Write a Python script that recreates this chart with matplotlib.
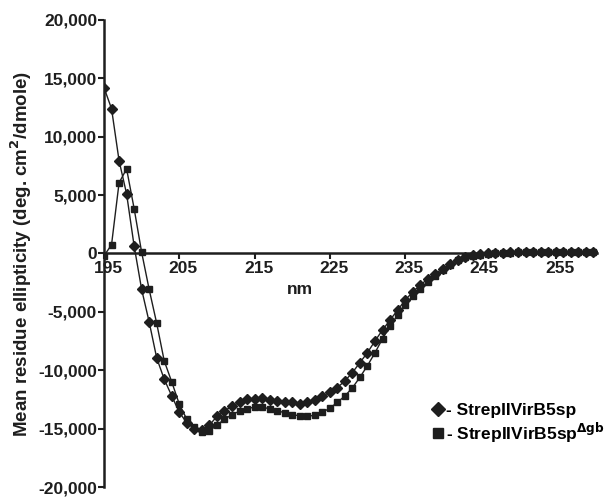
import matplotlib.pyplot as plt
from matplotlib.lines import Line2D
from matplotlib.ticker import FuncFormatter
from matplotlib.transforms import ScaledTranslation

# wavelength (nm) and mean residue ellipticity
nm_full = list(range(195, 261))

# StrepIIVirB5sp (diamonds)
elip_full = [14200, 12400, 7950, 5100, 650, -3080, -5870, -8950, -10770, -12200,
             -13600, -14500, -15000, -15100, -14700, -13950, -13500, -13050, -12760, -12500,
             -12420, -12400, -12550, -12620, -12680, -12760, -12850, -12760, -12560, -12200,
             -11900, -11480, -10910, -10200, -9340, -8490, -7490, -6550, -5700, -4850,
             -4000, -3300, -2700, -2200, -1750, -1300, -900, -520, -300, -160,
             -80, 0, 40, 70, 90, 100, 110, 120, 130, 130,
             140, 140, 150, 150, 150, 150]

# StrepIIVirB5sp delta-gb (squares)
elip_dgb = [-200, 750, 6050, 7250, 3850, 100, -3080, -5980, -9200, -11000,
            -12900, -14200, -14900, -15300, -15200, -14700, -14200, -13800, -13500, -13300,
            -13150, -13150, -13300, -13450, -13650, -13800, -13900, -13950, -13850, -13600,
            -13250, -12750, -12200, -11500, -10600, -9600, -8500, -7300, -6200, -5300,
            -4450, -3650, -3000, -2450, -1900, -1450, -950, -550, -320, -180,
            -90, -20, 30, 60, 80, 90, 100, 110, 120, 120,
            130, 130, 140, 140, 140, 140]

x_ticks = [195, 205, 215, 225, 235, 245, 255]
y_ticks = [-20000, -15000, -10000, -5000, 0, 5000, 10000, 15000, 20000]

plt.rcParams['font.family'] = ['Liberation Sans', 'DejaVu Sans']
plt.rcParams['font.weight'] = 'bold'

color = '#1e1e1e'
fs = 12.5

fig = plt.figure(figsize=(6.14, 4.98), dpi=100)
ax = fig.add_axes([0.1694, 0.022, 0.803, 0.938])

ax.plot(nm_full, elip_full, color=color, lw=1.0, marker='D', ms=4.8, mfc=color, mec=color)
ax.plot(nm_full, elip_dgb, color=color, lw=1.0, marker='s', ms=4.8, mfc=color, mec=color)

ax.set_xlim(195, 260.5)
ax.set_ylim(-20000, 20000)

ax.spines['top'].set_visible(False)
ax.spines['right'].set_visible(False)
ax.spines['bottom'].set_position(('data', 0))
ax.spines['left'].set_linewidth(1.8)
ax.spines['bottom'].set_linewidth(1.8)
ax.spines['left'].set_color(color)
ax.spines['bottom'].set_color(color)

ax.set_xticks(x_ticks)
ax.set_yticks(y_ticks)
ax.yaxis.set_major_formatter(FuncFormatter(lambda v, p: f'{int(v):,}'))
ax.tick_params(axis='both', direction='out', length=4, width=1.5, colors=color,
               labelsize=fs, pad=1)

# x labels sit a little to the right of their ticks, as in the original
shift = ScaledTranslation(4 / 100, -1 / 100, fig.dpi_scale_trans)
for lab in ax.get_xticklabels():
    lab.set_transform(lab.get_transform() + shift)

ax.text(221, -3100, 'nm', ha='center', va='center', fontsize=fs, fontweight='bold', color=color)
ax.set_ylabel('Mean residue ellipticity (deg. cm$^\\mathbf{2}$/dmole)', fontsize=13.5,
              fontweight='bold', color=color, labelpad=3)

handles = [Line2D([], [], color=color, marker='D', ms=7, ls='none'),
           Line2D([], [], color=color, marker='s', ms=6.5, ls='none')]
labels = ['- StrepIIVirB5sp', '- StrepIIVirB5sp$^{\\mathbf{\\Delta gb}}$']
ax.legend(handles, labels, loc='lower right', bbox_to_anchor=(1.04, 0.065), frameon=False,
          fontsize=fs, handlelength=0.7, handletextpad=0.1, labelspacing=0.15,
          borderaxespad=0.3)

fig.savefig('out.png', dpi=100)
